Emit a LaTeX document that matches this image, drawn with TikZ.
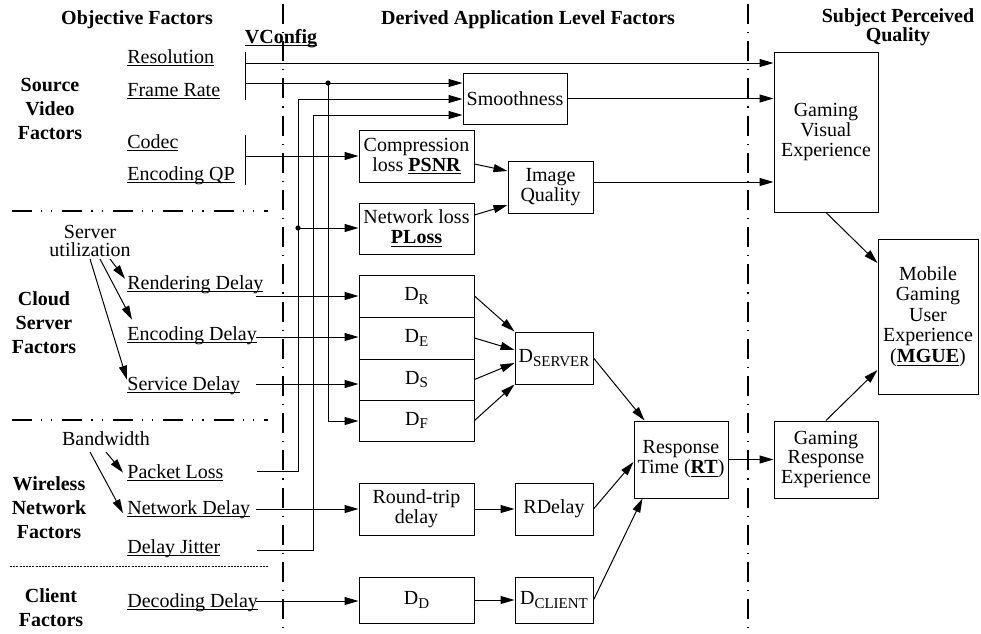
\documentclass[tikz,border=0pt]{standalone}
\usepackage{fontspec}
\setmainfont{Liberation Serif}
\usetikzlibrary{arrows.meta}
\newcommand\dsub[1]{\raisebox{-0.35ex}{\fontsize{7.5}{8}\selectfont #1}}
\newcommand\uln[1]{\leavevmode\setbox0\hbox{#1}\dimen0=\wd0 \rlap{\box0}\rule[-1.5pt]{\dimen0}{0.45pt}}
\begin{document}
\begin{tikzpicture}[x=0.5pt,y=-0.5pt,
  box/.style={draw, line width=0.5pt, inner sep=0pt, align=center, font=\fontsize{10}{10}\selectfont},
  arr/.style={-{Triangle[length=7pt,width=4pt]}, line width=0.5pt},
  ln/.style={line width=0.5pt},
  fac/.style={anchor=base west, inner sep=0pt},
  grp/.style={font=\bfseries\fontsize{10}{12}\selectfont, align=center, inner sep=0pt},
  hd/.style={font=\bfseries, align=center, inner sep=0pt},
  sepV/.style={line width=1pt, dash pattern=on 10pt off 4pt on 0.6pt off 4pt},
  sepH/.style={line width=1.2pt, dash pattern=on 10pt off 4.5pt on 0.6pt off 4.5pt on 0.6pt off 5pt},
  sepD/.style={line width=0.4pt, dash pattern=on 1pt off 0.6pt}]
\useasboundingbox (0,0) rectangle (981,633);

% separators
\coordinate (v1t) at (283,4); \coordinate (v1b) at (283,633);
\coordinate (v2t) at (748,4); \coordinate (v2b) at (748,633);
\draw[sepV] (v1t) -- (v1b);
\draw[sepV] (v2t) -- (v2b);
\coordinate (h1a) at (12,211); \coordinate (h1b) at (268,211);
\coordinate (h2a) at (12,420); \coordinate (h2b) at (268,420);
\coordinate (h3a) at (10,566); \coordinate (h3b) at (268,566);
\draw[sepH] (h1a) -- (h1b);
\draw[sepH] (h2a) -- (h2b);
\draw[sepD] (h3a) -- (h3b);

% headers
\node[hd, anchor=base] (hobj) at (137,24) {Objective Factors};
\node[hd, anchor=base] (hder) at (528,24) {Derived Application Level Factors};
\node[hd, font=\bfseries\fontsize{10}{9.5}\selectfont] (hsub) at (898,27) {Subject Perceived\\Quality};
\node[anchor=base, font=\bfseries, inner sep=0pt] (vc) at (281,43) {\uln{VConfig}};

% group labels
\node[grp] (gsv) at (50,109) {Source\\Video\\Factors};
\node[grp] (gcs) at (44,323) {Cloud\\Server\\Factors};
\node[grp] (gwn) at (49,508) {Wireless\\Network\\Factors};
\node[grp] (gcl) at (51,608) {Client\\Factors};

% factor labels
\node[fac] (res) at (127,63) {\uln{Resolution}};
\node[fac] (fr) at (127,96) {\uln{Frame Rate}};
\node[fac] (cod) at (127,148) {\uln{Codec}};
\node[fac] (qp) at (127,180) {\uln{Encoding QP}};
\node[inner sep=0pt, align=center, font=\fontsize{10}{9}\selectfont] (su) at (90,241) {Server\\utilization};
\node[fac] (rd) at (127,289) {\uln{Rendering Delay}};
\node[fac] (ed) at (127,340) {\uln{Encoding Delay}};
\node[fac] (svd) at (127,390) {\uln{Service Delay}};
\node[inner sep=0pt] (bw) at (106,439) {Bandwidth};
\node[fac] (pl) at (127,478) {\uln{Packet Loss}};
\node[fac] (nd) at (127,514) {\uln{Network Delay}};
\node[fac] (dj) at (127,553) {\uln{Delay Jitter}};
\node[fac] (dec) at (127,607) {\uln{Decoding Delay}};

% boxes
\node[box, minimum width=52pt, minimum height=25.5pt] (sm) at (515,98.5) {Smoothness};
\node[box, minimum width=57.5pt, minimum height=26pt] (cl) at (416.5,156) {Compression\\loss \textbf{\uln{PSNR}}};
\node[box, minimum width=42.5pt, minimum height=26pt] (iq) at (550.5,187) {Image\\Quality};
\node[box, minimum width=57.5pt, minimum height=25.5pt] (nl) at (416.5,228.5) {Network loss\\\textbf{\uln{PLoss}}};
\node[box, minimum width=57.5pt, minimum height=21pt] (dr) at (416.5,296) {D\dsub{R}};
\node[box, minimum width=57.5pt, minimum height=21pt] (de) at (416.5,338) {D\dsub{E}};
\node[box, minimum width=57.5pt, minimum height=20.5pt] (ds) at (416.5,379.5) {D\dsub{S}};
\node[box, minimum width=57.5pt, minimum height=20.5pt] (df) at (416.5,420.5) {D\dsub{F}};
\node[box, minimum width=39pt, minimum height=26pt] (dsv) at (554,358) {D\dsub{SERVER}};
\node[box, minimum width=57.5pt, minimum height=26pt] (rt) at (416.5,509) {Round-trip\\delay};
\node[box, minimum width=39pt, minimum height=26pt] (rdl) at (554,509) {RDelay};
\node[box, minimum width=57.5pt, minimum height=23pt] (dd) at (416.5,600) {D\dsub{D}};
\node[box, minimum width=39pt, minimum height=23pt] (dc) at (554,600) {D\dsub{CLIENT}};
\node[box, minimum width=47pt, minimum height=38.5pt] (rtm) at (681,459.5) {Response\\Time (\textbf{\uln{RT}})};
\node[box, minimum width=52pt, minimum height=38.5pt] (gre) at (826,459.5) {Gaming\\Response\\Experience};
\node[box, minimum width=52pt, minimum height=80pt] (gve) at (826,132) {Gaming\\Visual\\Experience};
\node[box, minimum width=50pt, minimum height=77.5pt, font=\fontsize{10}{10.3}\selectfont] (mg) at (928,316.5) {Mobile\\Gaming\\User\\Experience\\(\textbf{\uln{MGUE}})};

% brackets and source video connectors
\coordinate (b1t) at (245,52); \coordinate (b1b) at (245,100);
\draw[ln] (b1t) -- (b1b);
\coordinate (b2t) at (245,135); \coordinate (b2b) at (245,185);
\draw[ln] (b2t) -- (b2b);
\coordinate (r0) at (245,63);
\draw[arr] (r0) -- (gve.west |- r0);
\coordinate (f0) at (245,83);
\draw[arr] (f0) -- (sm.west |- f0);
\coordinate (c0) at (245,156);
\draw[arr] (c0) -- (cl.west |- c0);

% frame rate -> D_F
\coordinate (kc) at (328,83); \coordinate (kc2) at (328,421);
\draw[arr] (kc) -- (kc2) -- (df.west |- kc2);
\fill (kc) circle (1.3pt);

% packet loss -> smoothness, network loss
\coordinate (plo) at (257,471); \coordinate (ka) at (298,99);
\draw[arr] (plo) -| (ka) -- (sm.west |- ka);
\coordinate (ja) at (298,228);
\draw[arr] (ja) -- (nl.west |- ja);
\fill (ja) circle (1.3pt);

% delay jitter -> smoothness
\coordinate (djo) at (257,550); \coordinate (kb) at (313,115);
\draw[arr] (djo) -| (kb) -- (sm.west |- kb);

% delays
\coordinate (rdo) at (256,296); \draw[arr] (rdo) -- (dr.west |- rdo);
\coordinate (edo) at (256,337); \draw[arr] (edo) -- (de.west |- edo);
\coordinate (sdo) at (256,384); \draw[arr] (sdo) -- (ds.west |- sdo);
\coordinate (ndo) at (256,509); \draw[arr] (ndo) -- (rt.west |- ndo);
\coordinate (deco) at (256,601); \draw[arr] (deco) -- (dd.west |- deco);

% server utilization / bandwidth
\draw[arr] ([shift={(10pt,-9pt)}]su.center) -- ([xshift=-1pt,yshift=-2pt]rd.north west);
\draw[arr] ([shift={(5pt,-9pt)}]su.center) -- ([xshift=2.5pt,yshift=3pt]ed.north west);
\draw[arr] ([shift={(0pt,-9pt)}]su.center) -- ([yshift=-2pt]svd.north west);
\draw[arr] ([yshift=-6.5pt]bw.center) -- ([xshift=-2pt]pl.west);
\draw[arr] ([shift={(-8pt,-6.5pt)}]bw.center) -- ([xshift=-2pt,yshift=-2pt]nd.west);

% derived connectors
\coordinate (clo) at (474,164); \coordinate (iqi1) at (508,171);
\draw[arr] (cl.east |- clo) -- (iq.west |- iqi1);
\coordinate (nlo) at (474,215); \coordinate (iqi2) at (508,205);
\draw[arr] (nl.east |- nlo) -- (iq.west |- iqi2);
\coordinate (iqo) at (593,182);
\draw[arr] (iq.east |- iqo) -- (gve.west |- iqo);
\draw[arr] (sm.east) -- (gve.west |- sm.east);

\coordinate (dse) at (515,350); \coordinate (dss) at (515,363);
\draw[arr] (dr.east) -- (dsv.north west);
\draw[arr] (de.east) -- (dsv.west |- dse);
\draw[arr] (ds.east) -- (dsv.west |- dss);
\draw[arr] (df.east) -- (dsv.south west);

\draw[arr] (dsv.east) -- ([xshift=5.5pt]rtm.north west);
\coordinate (rti) at (634,462);
\draw[arr] (rdl.east) -- (rtm.west |- rti);
\draw[arr] (dc.east) -- ([xshift=4.5pt]rtm.south west);
\draw[arr] (rt.east) -- (rdl.west);
\draw[arr] (dd.east) -- (dc.west);
\draw[arr] (rtm.east) -- (gre.west);

\coordinate (mgi1) at (878,263); \coordinate (mgi2) at (878,370);
\draw[arr] (gve.south) -- (mg.west |- mgi1);
\draw[arr] (gre.north) -- (mg.west |- mgi2);
\end{tikzpicture}
\end{document}
